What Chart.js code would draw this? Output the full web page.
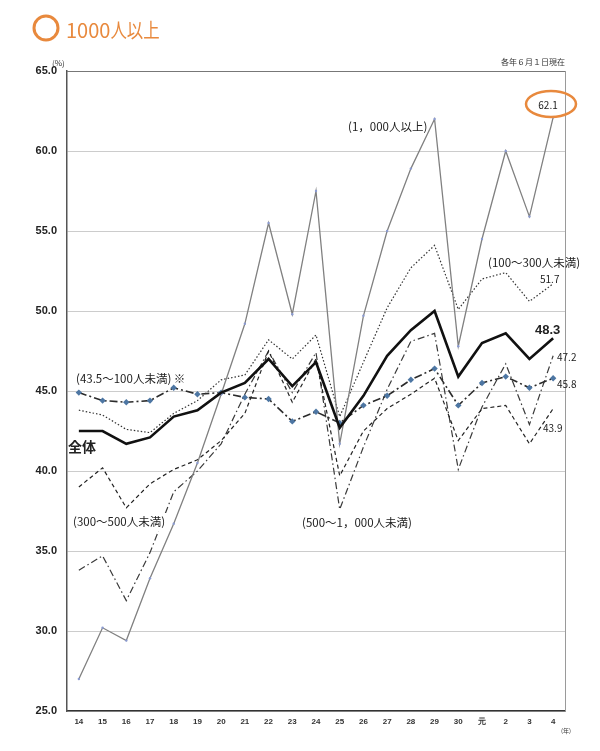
<!DOCTYPE html>
<html><head><meta charset="utf-8">
<script src="https://cdn.jsdelivr.net/npm/chart.js@4/dist/chart.umd.min.js"></script>
<style>html,body{margin:0;padding:0;background:#fff}#wrap{width:600px;height:751px;position:relative}</style>
</head><body><div id="wrap"><canvas id="c" width="600" height="751"></canvas></div>
<script>
// categories (年)
const years = ['14','15','16','17','18','19','20','21','22','23','24','25','26','27','28','29','30','元','2','3','4'];
// y tick values
const yTicks = [25,30,35,40,45,50,55,60,65];
// series (%)
const overall   = [42.5,42.5,41.7,42.1,43.4,43.8,44.9,45.5,47.0,45.3,46.8,42.7,44.7,47.2,48.8,50.0,45.9,48.0,48.6,47.0,48.3];
const over1000  = [27.0,30.2,29.4,33.3,36.7,40.5,44.8,49.2,55.5,49.8,57.5,41.7,49.7,55.0,58.9,62.0,47.8,54.5,60.0,55.9,62.1];
const s100_300  = [43.8,43.5,42.6,42.4,43.6,44.4,45.7,46.0,48.2,47.0,48.5,43.4,46.8,50.2,52.7,54.1,50.1,52.0,52.4,50.6,51.7];
const s43_100   = [44.9,44.4,44.3,44.4,45.2,44.8,44.9,44.6,44.5,43.1,43.7,43.0,44.1,44.7,45.7,46.4,44.1,45.5,45.9,45.2,45.8];
const s300_500  = [39.0,40.2,37.7,39.2,40.1,40.7,41.9,43.6,47.5,44.3,47.0,39.7,42.5,43.9,44.8,45.8,41.9,43.9,44.1,41.7,43.9];
const s500_1000 = [33.8,34.7,31.9,34.9,38.7,40.0,41.7,44.8,47.5,44.9,47.4,37.6,41.5,45.1,48.1,48.6,40.1,44.0,46.7,42.9,47.2];

const ORANGE = '#E8893D';
const JP = '"Noto Sans CJK JP","Noto Sans",sans-serif';

const deco = {
  id:'deco',
  afterDraw(chart){
    const ctx = chart.ctx, a = chart.chartArea;
    ctx.save();
    // right & top border
    ctx.strokeStyle = '#9a9a9a'; ctx.lineWidth = 1;
    ctx.beginPath(); ctx.moveTo(a.right+0.5, a.top); ctx.lineTo(a.right+0.5, a.bottom); ctx.stroke();
    ctx.strokeStyle = '#777';
    ctx.beginPath(); ctx.moveTo(a.left, a.top+0.5); ctx.lineTo(a.right, a.top+0.5); ctx.stroke();
    // title
    ctx.strokeStyle = ORANGE; ctx.lineWidth = 3;
    ctx.beginPath(); ctx.arc(46, 28, 12, 0, Math.PI*2); ctx.stroke();
    ctx.fillStyle = ORANGE; ctx.textBaseline = 'alphabetic'; ctx.textAlign = 'left';
    ctx.font = '20px ' + JP;
    ctx.fillText('1000', 66, 38);
    const w = ctx.measureText('1000').width;
    ctx.save(); ctx.translate(66 + w, 38); ctx.scale(0.82, 1); ctx.fillText('人以上', 0, 0); ctx.restore();
    // units
    ctx.fillStyle = '#333'; ctx.font = '8px ' + JP; ctx.textAlign='left'; ctx.textBaseline='middle';
    ctx.fillText('(%)', 52, 63);
    ctx.textAlign = 'right'; ctx.fillText('各年６月１日現在', 565, 62);
    ctx.font = '6px ' + JP; ctx.fillText('(年)', 571, 731);
    // series labels
    const lab = (t, x, y, font, align, bg) => {
      ctx.font = font; ctx.textAlign = align || 'left'; ctx.textBaseline = 'middle';
      if (bg) {
        const mw = ctx.measureText(t).width;
        const x0 = align === 'center' ? x - mw/2 : (align === 'right' ? x - mw : x);
        ctx.fillStyle = '#fff'; ctx.fillRect(x0 - 4, y - 9, mw + 8, 18);
      }
      ctx.fillStyle = '#222'; ctx.fillText(t, x, y);
    };
    const f11 = '11.5px ' + JP;
    lab('(1，000人以上)', 348, 127, f11);
    lab('(100～300人未満)', 488, 263, f11);
    lab('51.7', 540, 279, '10px ' + JP);
    lab('(43.5～100人未満) ※', 76, 379, f11);
    lab('全体', 68, 447, 'bold 14px ' + JP);
    lab('(300～500人未満)', 73, 522, f11, 'left', true);
    lab('(500～1，000人未満)', 302, 523, f11);
    lab('48.3', 535, 330, 'bold 13px "Liberation Sans",Arial,sans-serif');
    lab('47.2', 557, 357, '10px ' + JP);
    lab('45.8', 557, 384, '10px ' + JP);
    lab('43.9', 543, 428, '10px ' + JP);
    // highlighted value
    ctx.strokeStyle = ORANGE; ctx.lineWidth = 2.5;
    ctx.beginPath(); ctx.ellipse(551, 104, 25, 13, 0, 0, Math.PI*2); ctx.stroke();
    lab('62.1', 548, 105, '10px ' + JP, 'center');
    ctx.restore();
  }
};

new Chart(document.getElementById('c'), {
  type:'line',
  data:{
    labels: years,
    datasets:[
      {label:'全体', data: overall, borderColor:'#111', borderWidth:2.6, pointRadius:0, tension:0},
      {label:'(1,000人以上)', data: over1000, borderColor:'#808080', borderWidth:1.3, pointRadius:1.2, pointBackgroundColor:'#8a9ad0', pointBorderWidth:0, tension:0},
      {label:'(100～300人未満)', data: s100_300, borderColor:'#333', borderWidth:1.2, borderDash:[1.5,2], pointRadius:0, tension:0},
      {label:'(43.5～100人未満)※', data: s43_100, borderColor:'#2b2b2b', borderWidth:1.6, borderDash:[8,3,2,3], pointRadius:3.2, pointStyle:'rectRot', pointBackgroundColor:'#4d76a3', pointBorderColor:'#4d76a3', pointBorderWidth:0, tension:0},
      {label:'(300～500人未満)', data: s300_500, borderColor:'#222', borderWidth:1.2, borderDash:[4,3], pointRadius:0, tension:0},
      {label:'(500～1,000人未満)', data: s500_1000, borderColor:'#3a3a3a', borderWidth:1.2, borderDash:[7,3,1.5,3], pointRadius:0, tension:0}
    ]
  },
  options:{
    responsive:false, animation:false, devicePixelRatio:1,
    layout:{padding:{left:0, right:35, top:71, bottom:0}},
    plugins:{legend:{display:false}, tooltip:{enabled:false}},
    scales:{
      x:{
        offset:true,
        grid:{display:false, drawTicks:false},
        border:{display:true, color:'#333', width:1.5},
        ticks:{color:'#333', font:{family:'"Liberation Sans",Arial,sans-serif', size:8, weight:'bold'}, padding:6, maxRotation:0, autoSkip:false},
        afterFit(s){ s.height = 40; }
      },
      y:{
        min:25, max:65,
        afterBuildTicks(s){ s.ticks = yTicks.map(v=>({value:v})); },
        grid:{color:'#cccccc', lineWidth:1, drawTicks:false},
        border:{display:true, color:'#555', width:1.5},
        ticks:{color:'#222', font:{family:'"Liberation Sans",Arial,sans-serif', size:11, weight:'bold'}, padding:10, callback:v=>Number(v).toFixed(1)},
        afterFit(s){ s.width = 67; }
      }
    }
  },
  plugins:[deco]
});
</script></body></html>
